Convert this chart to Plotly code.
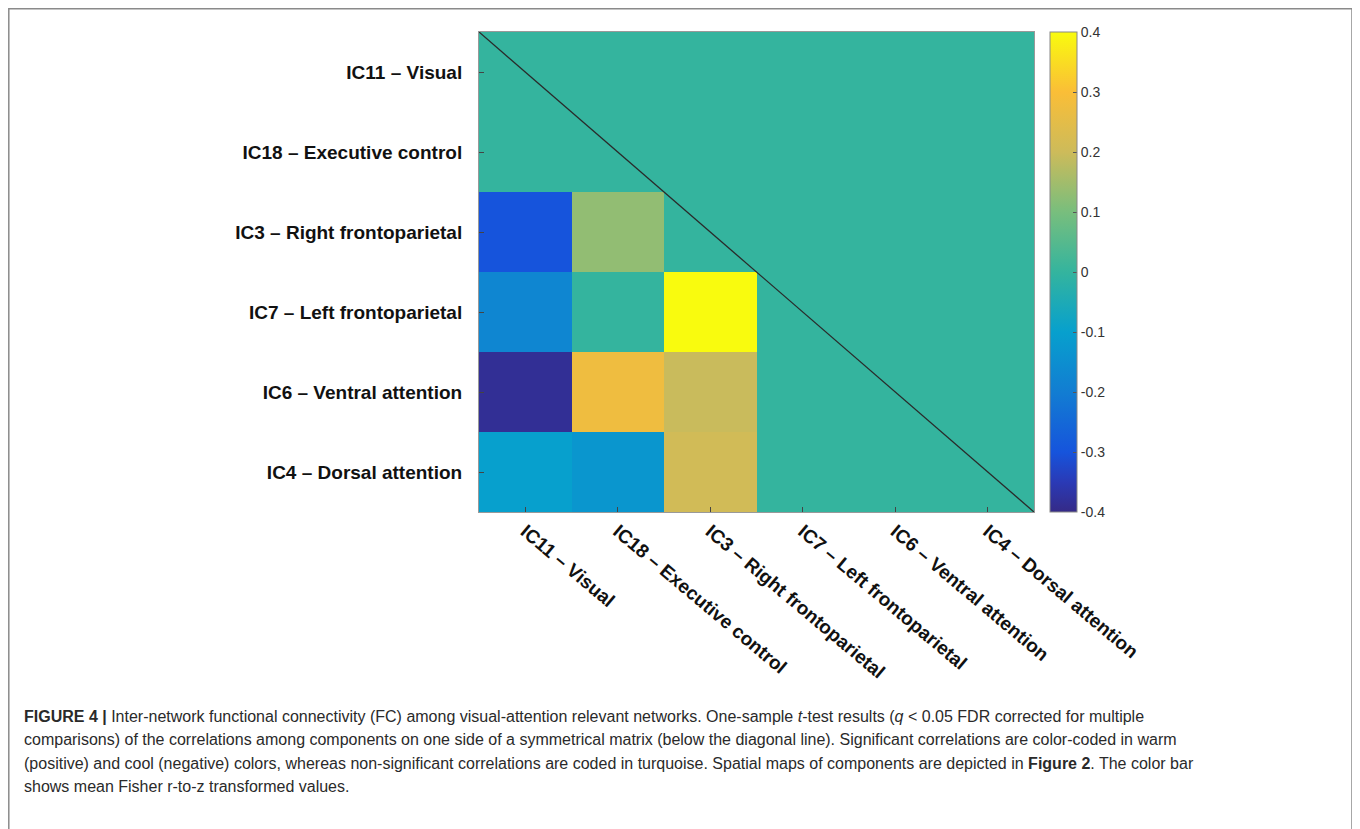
import plotly.graph_objects as go

# ---- data ----
networks = ["IC11 – Visual", "IC18 – Executive control", "IC3 – Right frontoparietal",
            "IC7 – Left frontoparietal", "IC6 – Ventral attention", "IC4 – Dorsal attention"]
# rows (top to bottom) x columns (left to right); 0 = non-significant (turquoise)
fc_values = [
    [0.0,   0.0,   0.0,  0.0, 0.0, 0.0],
    [0.0,   0.0,   0.0,  0.0, 0.0, 0.0],
    [-0.30, 0.13,  0.0,  0.0, 0.0, 0.0],
    [-0.175, 0.0,  0.40, 0.0, 0.0, 0.0],
    [-0.385, 0.275, 0.195, 0.0, 0.0, 0.0],
    [-0.10, -0.128, 0.21, 0.0, 0.0, 0.0],
]
cbar_ticks = [-0.4, -0.3, -0.2, -0.1, 0, 0.1, 0.2, 0.3, 0.4]
cbar_ticktext = ["-0.4", "-0.3", "-0.2", "-0.1", "0", "0.1", "0.2", "0.3", "0.4"]

caption_lines = [
    "<b>FIGURE 4 |</b> Inter-network functional connectivity (FC) among visual-attention relevant networks. One-sample <i>t</i>-test results (<i>q</i> &lt; 0.05 FDR corrected for multiple",
    "comparisons) of the correlations among components on one side of a symmetrical matrix (below the diagonal line). Significant correlations are color-coded in warm",
    "(positive) and cool (negative) colors, whereas non-significant correlations are coded in turquoise. Spatial maps of components are depicted in <b>Figure 2</b>. The color bar",
    "shows mean Fisher r-to-z transformed values.",
]

parula = [
    [0.0, "rgb(53,42,135)"],
    [0.0625, "rgb(42,58,182)"],
    [0.125, "rgb(22,84,220)"],
    [0.25, "rgb(18,125,210)"],
    [0.375, "rgb(7,160,205)"],
    [0.5, "rgb(52,180,158)"],
    [0.625, "rgb(120,190,125)"],
    [0.75, "rgb(205,187,90)"],
    [0.875, "rgb(250,190,55)"],
    [1.0, "rgb(249,251,14)"],
]

W, H = 1360, 829
OFF = 8  # page body margin
px0, px1, py0, py1 = 479 - OFF, 1034 - OFF, 32 - OFF, 512 - OFF

n = len(networks)
fig = go.Figure()
fig.add_trace(go.Heatmap(
    z=fc_values, x=list(range(n)), y=list(range(n)),
    colorscale=parula, zmin=-0.4, zmax=0.4,
    xgap=0, ygap=0, hoverinfo="skip",
    colorbar=dict(
        x=(1050 - OFF) / W, xanchor="left", xpad=0,
        y=1 - (py0 + py1) / 2 / H, yanchor="middle", ypad=0,
        len=(py1 - py0), lenmode="pixels",
        thickness=27, thicknessmode="pixels",
        outlinecolor="#888888", outlinewidth=1,
        tickvals=cbar_ticks, ticktext=cbar_ticktext,
        ticks="inside", ticklen=4, tickcolor="#555555",
        tickfont=dict(family="Liberation Sans, Arial, sans-serif", size=14, color="#333333"),
    ),
))

# diagonal line
fig.add_shape(type="line", xref="x", yref="y", x0=-0.5, y0=-0.5, x1=n - 0.5, y1=n - 0.5,
              line=dict(color="#2a2a2a", width=1.3), layer="above")

# figure frame
fig.add_shape(type="rect", xref="paper", yref="paper",
              x0=0.8 / W, x1=(1352 - OFF) / W, y0=-0.05, y1=1 - 0.8 / H,
              line=dict(color="#8a8a8a", width=1.5))

for i, line in enumerate(caption_lines):
    fig.add_annotation(
        xref="paper", yref="paper", x=(22 - OFF) / W, y=1 - (716 - OFF + i * 23.5) / H,
        xanchor="left", yanchor="middle", showarrow=False, text=line, align="left",
        font=dict(family="Liberation Sans, Arial, sans-serif", size=16, color="#2a2a2a"),
    )

lab_font = dict(family="Liberation Sans, Arial, sans-serif", size=19, color="#111111")
fig.update_xaxes(
    domain=[px0 / W, px1 / W], range=[-0.5, n - 0.5], automargin=False,
    tickvals=list(range(n)), ticktext=["<b>%s</b>" % s for s in networks],
    tickangle=40, tickfont=lab_font,
    ticks="inside", ticklen=5, tickcolor="#444444",
    showline=True, linecolor="#999999", linewidth=1, mirror=True,
    showgrid=False, zeroline=False,
)
fig.update_yaxes(
    domain=[1 - py1 / H, 1 - py0 / H], range=[n - 0.5, -0.5], automargin=False,
    tickvals=list(range(n)), ticktext=["<b>%s</b>" % s for s in networks],
    tickfont=lab_font, ticklabelstandoff=12,
    ticks="inside", ticklen=5, tickcolor="#444444",
    showline=True, linecolor="#999999", linewidth=1, mirror=True,
    showgrid=False, zeroline=False,
)
fig.update_layout(
    width=W, height=H, margin=dict(l=0, r=0, t=0, b=0),
    paper_bgcolor="white", plot_bgcolor="white", showlegend=False,
)
fig.write_html("out.html")
